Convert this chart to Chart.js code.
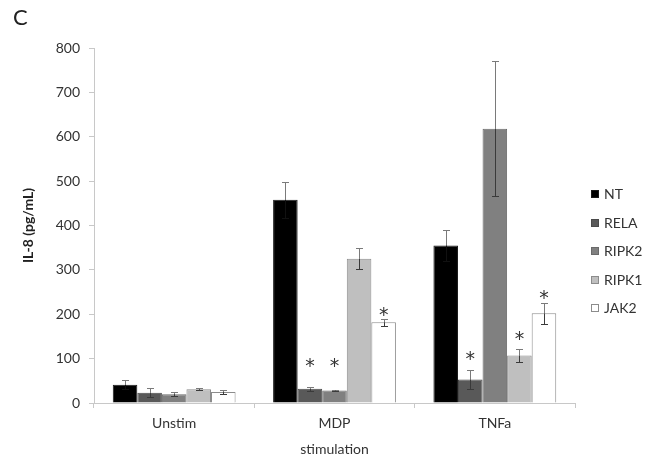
<!DOCTYPE html>
<html>
<head>
<meta charset="utf-8">
<script src="https://cdn.jsdelivr.net/npm/chart.js@4.4.1/dist/chart.umd.min.js"></script>
<style>
  html, body { margin: 0; padding: 0; background: #fff; }
  #wrap { position: relative; width: 658px; height: 464px; overflow: hidden; }
  #chart { position: absolute; left: 0; top: 0; }
  #panel { position: absolute; left: 13px; top: 6px; font: 22px Lato, sans-serif; line-height: 22px; color: #222; }
  .lg { position: absolute; left: 591px; height: 18px; line-height: 18px; font: 14px Lato, sans-serif; color: #333; white-space: nowrap; }
  .lg i { position: absolute; left: 0; top: 5px; width: 8px; height: 8px; box-sizing: border-box; }
  .lg span { position: absolute; left: 13px; top: 0; }
</style>
</head>
<body>
<div id="wrap">
  <canvas id="chart" width="658" height="464"></canvas>
  <div id="panel">C</div>
  <div id="legend"></div>
</div>
<script>
// ---- data ----
const categories = ["Unstim", "MDP", "TNFa"];
const seriesNames = ["NT", "RELA", "RIPK2", "RIPK1", "JAK2"];

const valuesNT    = [41, 458, 355];
const valuesRELA  = [23, 32, 53];
const valuesRIPK2 = [20, 28, 618];
const valuesRIPK1 = [31, 325, 107];
const valuesJAK2  = [25, 182, 202];

const errorsNT    = [10, 40, 35];
const errorsRELA  = [10, 5, 21];
const errorsRIPK2 = [4, 2, 152];
const errorsRIPK1 = [2, 24, 15];
const errorsJAK2  = [5, 8, 24];

// level (in pg/mL) at which a significance asterisk is shown; null = none
const starsNT    = [null, null, null];
const starsRELA  = [null, 91, 108];
const starsRIPK2 = [null, 91, null];
const starsRIPK1 = [null, null, 153];
const starsJAK2  = [null, 207, 244];

const yTickMin = 0, yTickMax = 800, yTickStep = 100;

// ---- styling ----
const fills   = ["#000000", "#595959", "#808080", "#bfbfbf", "#ffffff"];
const borders = ["#1a1a1a", "#4a4a4a", "#6a6a6a", "#8c8c8c", "#8c8c8c"];
const allValues = [valuesNT, valuesRELA, valuesRIPK2, valuesRIPK1, valuesJAK2];
const allErrors = [errorsNT, errorsRELA, errorsRIPK2, errorsRIPK1, errorsJAK2];
const allStars  = [starsNT, starsRELA, starsRIPK2, starsRIPK1, starsJAK2];

const datasets = seriesNames.map((name, i) => ({
  label: name,
  data: allValues[i],
  errors: allErrors[i],
  stars: allStars[i],
  backgroundColor: fills[i],
  borderColor: borders[i],
  borderWidth: 1,
  categoryPercentage: 0.766,
  barPercentage: 1.0
}));

const errorBarPlugin = {
  id: 'errorBars',
  afterDatasetsDraw(chart) {
    const ctx = chart.ctx;
    const yScale = chart.scales.y;
    ctx.save();
    chart.data.datasets.forEach((ds, di) => {
      const meta = chart.getDatasetMeta(di);
      meta.data.forEach((el, j) => {
        const v = ds.data[j], e = ds.errors[j];
        const x = Math.round(el.x) + 0.5;
        const yT = Math.round(yScale.getPixelForValue(v + e)) + 0.5;
        const yV = yScale.getPixelForValue(v);
        const yB = Math.round(yScale.getPixelForValue(Math.max(0, v - e))) + 0.5;
        ctx.lineWidth = 1;
        // part above bar top
        ctx.strokeStyle = '#7a7a7a';
        ctx.beginPath();
        ctx.moveTo(x, yT); ctx.lineTo(x, yV);
        ctx.moveTo(x - 3.5, yT); ctx.lineTo(x + 3.5, yT);
        ctx.stroke();
        // part inside bar
        ctx.strokeStyle = di === 0 ? '#111' : '#3a3a3a';
        ctx.beginPath();
        ctx.moveTo(x, yV); ctx.lineTo(x, yB);
        ctx.moveTo(x - 3.5, yB); ctx.lineTo(x + 3.5, yB);
        ctx.stroke();
        const s = ds.stars[j];
        if (s !== null && s !== undefined) {
          ctx.fillStyle = '#333';
          ctx.font = '19px "DejaVu Sans", sans-serif';
          ctx.textAlign = 'center';
          ctx.textBaseline = 'alphabetic';
          const m = ctx.measureText('*');
          const cy = yScale.getPixelForValue(s);
          const base = cy + (m.actualBoundingBoxAscent - m.actualBoundingBoxDescent) / 2;
          ctx.fillText('*', el.x, base);
        }
      });
    });
    ctx.restore();
  }
};

const chart = new Chart(document.getElementById('chart'), {
  type: 'bar',
  data: { labels: categories, datasets },
  plugins: [errorBarPlugin],
  options: {
    responsive: false,
    animation: false,
    devicePixelRatio: 1,
    layout: { padding: { top: 48, right: 83, left: 0, bottom: 0 } },
    plugins: { legend: { display: false }, tooltip: { enabled: false } },
    scales: {
      x: {
        grid: { display: true, drawOnChartArea: false, tickLength: 5, color: '#c8c8c8', offset: true },
        border: { color: '#c8c8c8' },
        ticks: { font: { family: 'Lato', size: 14 }, color: '#333', padding: 7 },
        title: { display: true, text: 'stimulation', font: { family: 'Lato', size: 14 }, color: '#333', padding: { top: 0, bottom: 6.5 } },
        afterFit(scale) { scale.height = 61; }
      },
      y: {
        min: yTickMin, max: yTickMax,
        grid: { display: true, drawOnChartArea: false, tickLength: 5, color: '#c8c8c8' },
        border: { color: '#c8c8c8' },
        ticks: { stepSize: yTickStep, font: { family: 'Lato', size: 14 }, color: '#333', padding: 9 },
        title: { display: true, text: 'IL-8 (pg/mL)', font: { family: 'Lato', size: 14, weight: 'bold' }, color: '#222', padding: { top: 20.5, bottom: 0 } },
        afterFit(scale) { scale.width = 94; }
      }
    }
  }
});

// ---- legend (HTML, real text) ----
const legend = document.getElementById('legend');
seriesNames.forEach((name, i) => {
  const d = document.createElement('div');
  d.className = 'lg';
  d.style.top = (185 + i * 28.5) + 'px';
  const sq = document.createElement('i');
  sq.style.background = fills[i];
  sq.style.border = '1px solid ' + borders[i];
  const t = document.createElement('span');
  t.textContent = name;
  d.appendChild(sq); d.appendChild(t);
  legend.appendChild(d);
});
</script>
</body>
</html>
